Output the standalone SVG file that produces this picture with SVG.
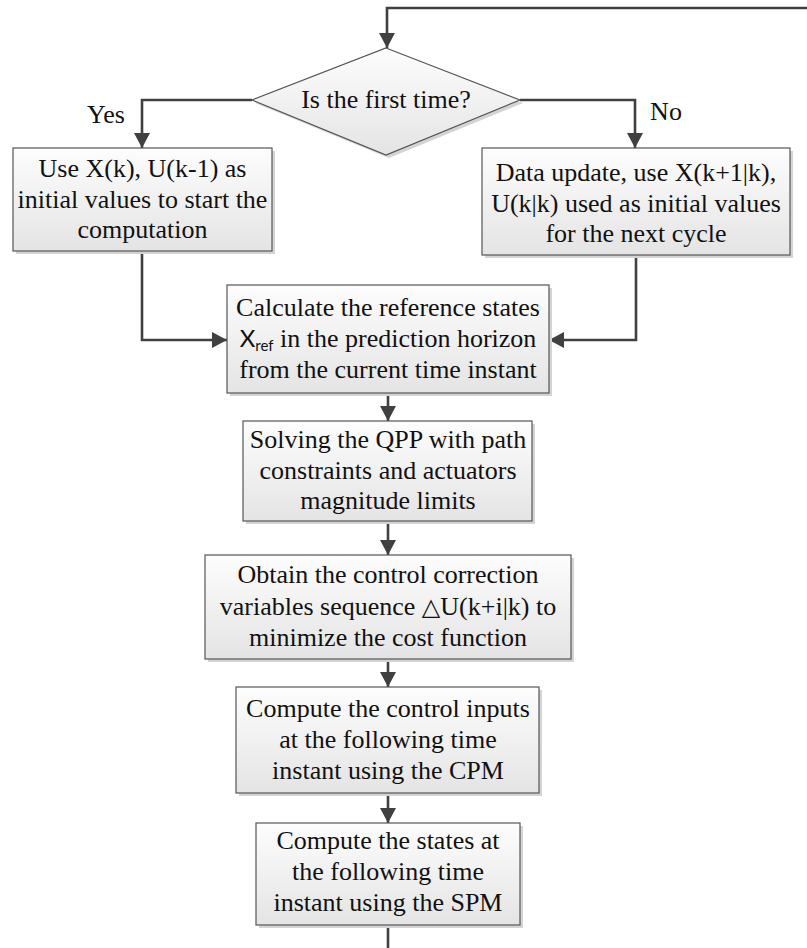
<svg xmlns="http://www.w3.org/2000/svg" width="807" height="948" viewBox="0 0 807 948">
<defs>
<linearGradient id="g" x1="0" y1="0" x2="0" y2="1">
<stop offset="0" stop-color="#fdfdfd"/>
<stop offset="1" stop-color="#e4e4e4"/>
</linearGradient>
<marker id="ah" markerUnits="userSpaceOnUse" markerWidth="16" markerHeight="16" refX="15" refY="8" orient="auto">
<path d="M0,0 L15,8 L0,16 z" fill="#404040"/>
</marker>
<style>
.box{fill:url(#g);stroke:#555;stroke-width:1.2}
.sh{fill:#d4d4d4}
text{font-family:'Liberation Serif','DejaVu Serif',serif;font-size:26px;fill:#111;text-anchor:middle}
.c{fill:none;stroke:#404040;stroke-width:2.6}
.a{marker-end:url(#ah)}
</style>
</defs>
<rect width="807" height="948" fill="#fff"/>
<g id="connectors">
<path class="c a" d="M807,8 H387 V48"/>
<path class="c a" d="M252,100 H142 V148"/>
<path class="c a" d="M520,100 H635 V148"/>
<path class="c a" d="M142,251 V340 H227"/>
<path class="c a" d="M636,255 V340 H549"/>
<path class="c a" d="M388,393 V421"/>
<path class="c a" d="M388,521 V555"/>
<path class="c a" d="M388,659 V687"/>
<path class="c a" d="M388,793 V823"/>
<path class="c" d="M388,925 V948"/>
</g>
<g id="decision">
<polygon class="sh" points="389,51 523,103 389,158 255,103"/>
<polygon class="box" points="386,48 520,100 386,155 252,100"/>
<text x="386" y="108">Is the first time?</text>
</g>
<g id="label-yes"><text x="106" y="123">Yes</text></g>
<g id="label-no"><text x="666" y="120">No</text></g>
<g id="box-yes">
<rect class="sh" x="16" y="151" width="259" height="103"/>
<rect class="box" x="13" y="148" width="259" height="103"/>
<text x="142.5" y="177">Use X(k), U(k-1) as</text>
<text x="142.5" y="208">initial values to start the</text>
<text x="142.5" y="238">computation</text>
</g>
<g id="box-no">
<rect class="sh" x="485" y="151" width="308" height="107"/>
<rect class="box" x="482" y="148" width="308" height="107"/>
<text x="636" y="181">Data update, use X(k+1|k),</text>
<text x="636" y="212">U(k|k) used as initial values</text>
<text x="636" y="242">for the next cycle</text>
</g>
<g id="box-ref">
<rect class="sh" x="230" y="288" width="322" height="108"/>
<rect class="box" x="227" y="285" width="322" height="108"/>
<text x="388" y="316">Calculate the reference states</text>
<text x="388" y="347"><tspan style="font-family:Lato,'Liberation Sans',sans-serif;font-size:24px">X</tspan><tspan style="font-family:Lato,'Liberation Sans',sans-serif;font-size:15px" dy="4">ref</tspan><tspan dy="-4"> in the prediction horizon</tspan></text>
<text x="388" y="378">from the current time instant</text>
</g>
<g id="box-qpp">
<rect class="sh" x="246" y="424" width="289" height="100"/>
<rect class="box" x="243" y="421" width="289" height="100"/>
<text x="388" y="448">Solving the QPP with path</text>
<text x="388" y="479">constraints and actuators</text>
<text x="388" y="509">magnitude limits</text>
</g>
<g id="box-obtain">
<rect class="sh" x="208" y="558" width="366" height="104"/>
<rect class="box" x="205" y="555" width="366" height="104"/>
<text x="388" y="583">Obtain the control correction</text>
<text x="388" y="615">variables sequence <tspan style="font-family:'DejaVu Serif',serif;font-size:24px">△</tspan>U(k+i|k) to</text>
<text x="388" y="646">minimize the cost function</text>
</g>
<g id="box-cpm">
<rect class="sh" x="239" y="690" width="303" height="106"/>
<rect class="box" x="236" y="687" width="303" height="106"/>
<text x="388" y="717">Compute the control inputs</text>
<text x="388" y="748">at the following time</text>
<text x="388" y="779">instant using the CPM</text>
</g>
<g id="box-spm">
<rect class="sh" x="259" y="826" width="264" height="102"/>
<rect class="box" x="256" y="823" width="264" height="102"/>
<text x="388" y="849">Compute the states at</text>
<text x="388" y="880">the following time</text>
<text x="388" y="911">instant using the SPM</text>
</g>
</svg>
